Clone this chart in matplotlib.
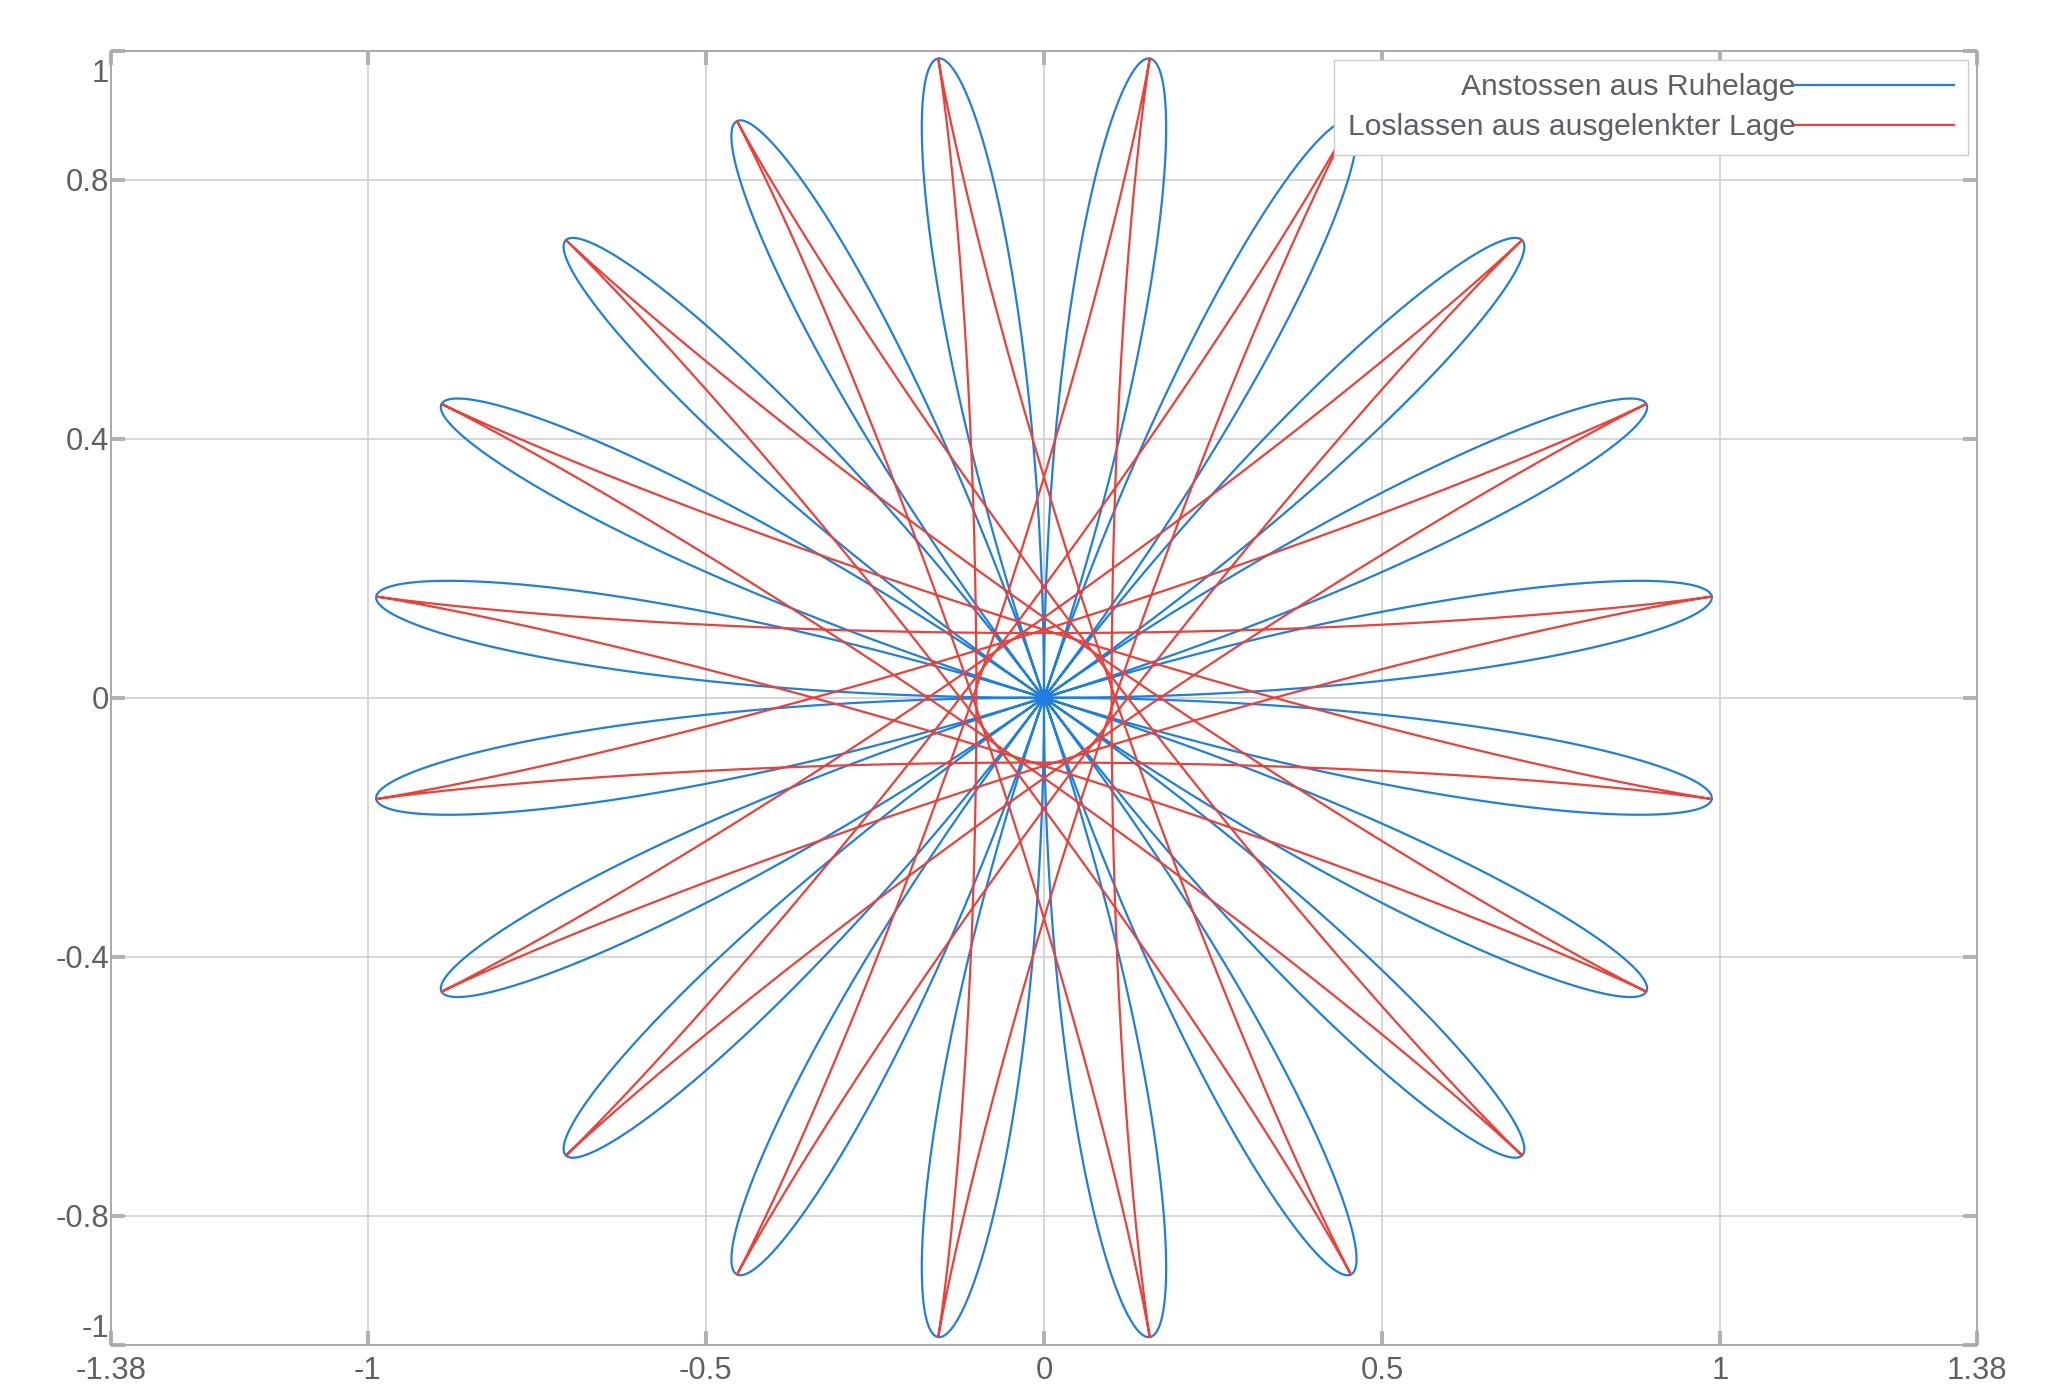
import numpy as np
import matplotlib
matplotlib.use("Agg")
import matplotlib.pyplot as plt

# ---- chart parameters / data ----
series_labels = ["Anstossen aus Ruhelage", "Loslassen aus ausgelenkter Lage"]
series_colors = ["#1f7fe0", "#ec4038"]

amplitude = 1.0            # maximum deflection
freq_ratio = 0.1           # earth rotation rate / pendulum frequency
n_periods = 10             # full pendulum periods until the figure closes
release_angle_deg = 9.0    # direction of the initial deflection (red curve)
n_samples = 20001

x_ticks = [-1.38, -1, -0.5, 0, 0.5, 1, 1.38]
x_tick_labels = ["-1.38", "-1", "-0.5", "0", "0.5", "1", "1.38"]
y_ticks = [-1, -0.8, -0.4, 0, 0.4, 0.8, 1]
y_tick_labels = ["-1", "-0.8", "-0.4", "0", "0.4", "0.8", "1"]
x_grid = [-1, -0.5, 0, 0.5, 1]
y_grid = [-0.8, -0.4, 0, 0.4, 0.8]
x_limits = [-1.38, 1.38]
y_limits = [-1, 1]

# ---- trajectories (Foucault pendulum, seen in the earth frame) ----
phase = np.linspace(0.0, 2 * np.pi * n_periods, n_samples)   # omega * t
rot = np.exp(-1j * freq_ratio * phase)
z_push = amplitude * np.sin(phase) * rot
z_release = (amplitude * (np.cos(phase) + 1j * freq_ratio * np.sin(phase)) * rot
             * np.exp(1j * np.deg2rad(release_angle_deg)))

# ---- style ----
plt.rcParams['font.family'] = ['Liberation Sans', 'DejaVu Sans']
text_color = "#5f5f66"
spine_color = "#aaaaaa"
grid_color = "#cccccc"
tick_color = "#b3b3b3"

fig = plt.figure(figsize=(20.48, 13.96), dpi=100)
ax = fig.add_axes([0.0542, 0.0365, 0.9111, 0.9273])

ax.plot(z_push.real, z_push.imag, color=series_colors[0], lw=1.6,
        label=series_labels[0], zorder=3)
ax.plot(z_release.real, z_release.imag, color=series_colors[1], lw=1.6,
        label=series_labels[1], zorder=4)

ax.set_xlim(*x_limits)
ax.set_ylim(*y_limits)

# grid
for gx in x_grid:
    ax.axvline(gx, color=grid_color, lw=1.1, zorder=1)
for gy in y_grid:
    ax.axhline(gy, color=grid_color, lw=1.1, zorder=1)

# ticks
ax.set_xticks(x_ticks)
ax.set_xticklabels(x_tick_labels)
ax.set_yticks(y_ticks)
ends = {y_ticks[0]: y_tick_labels[0], y_ticks[-1]: y_tick_labels[-1]}
ax.set_yticklabels(["" if v in ends else l for v, l in zip(y_ticks, y_tick_labels)])
ax.tick_params(axis='both', direction='in', length=10, width=2.9,
               color=tick_color, labelcolor=text_color, labelsize=22.3,
               top=True, right=True)
ax.tick_params(axis='x', pad=8)
ax.tick_params(axis='y', pad=1.5)

# end labels of the y axis are pulled inside the axis range
ax.annotate(ends[y_ticks[-1]], xy=(0, y_ticks[-1]), xycoords=('axes fraction', 'data'),
            xytext=(-1.5, -6), textcoords='offset points', ha='right', va='top',
            fontsize=22.3, color=text_color)
ax.annotate(ends[y_ticks[0]], xy=(0, y_ticks[0]), xycoords=('axes fraction', 'data'),
            xytext=(-1.5, 6), textcoords='offset points', ha='right', va='baseline',
            fontsize=22.3, color=text_color)

for sp in ax.spines.values():
    sp.set_color(spine_color)
    sp.set_linewidth(1.4)
    sp.set_zorder(5)

leg = ax.legend(loc='upper right', bbox_to_anchor=(1, 1), markerfirst=False,
                handletextpad=0.0, handlelength=5.3, fontsize=21.6,
                borderpad=0.45, labelspacing=0.4, borderaxespad=0.3,
                fancybox=False, framealpha=1.0, edgecolor="#cccccc")
leg.get_frame().set_linewidth(1.0)
for t in leg.get_texts():
    t.set_color(text_color)

fig.savefig("out.png", dpi=100)
